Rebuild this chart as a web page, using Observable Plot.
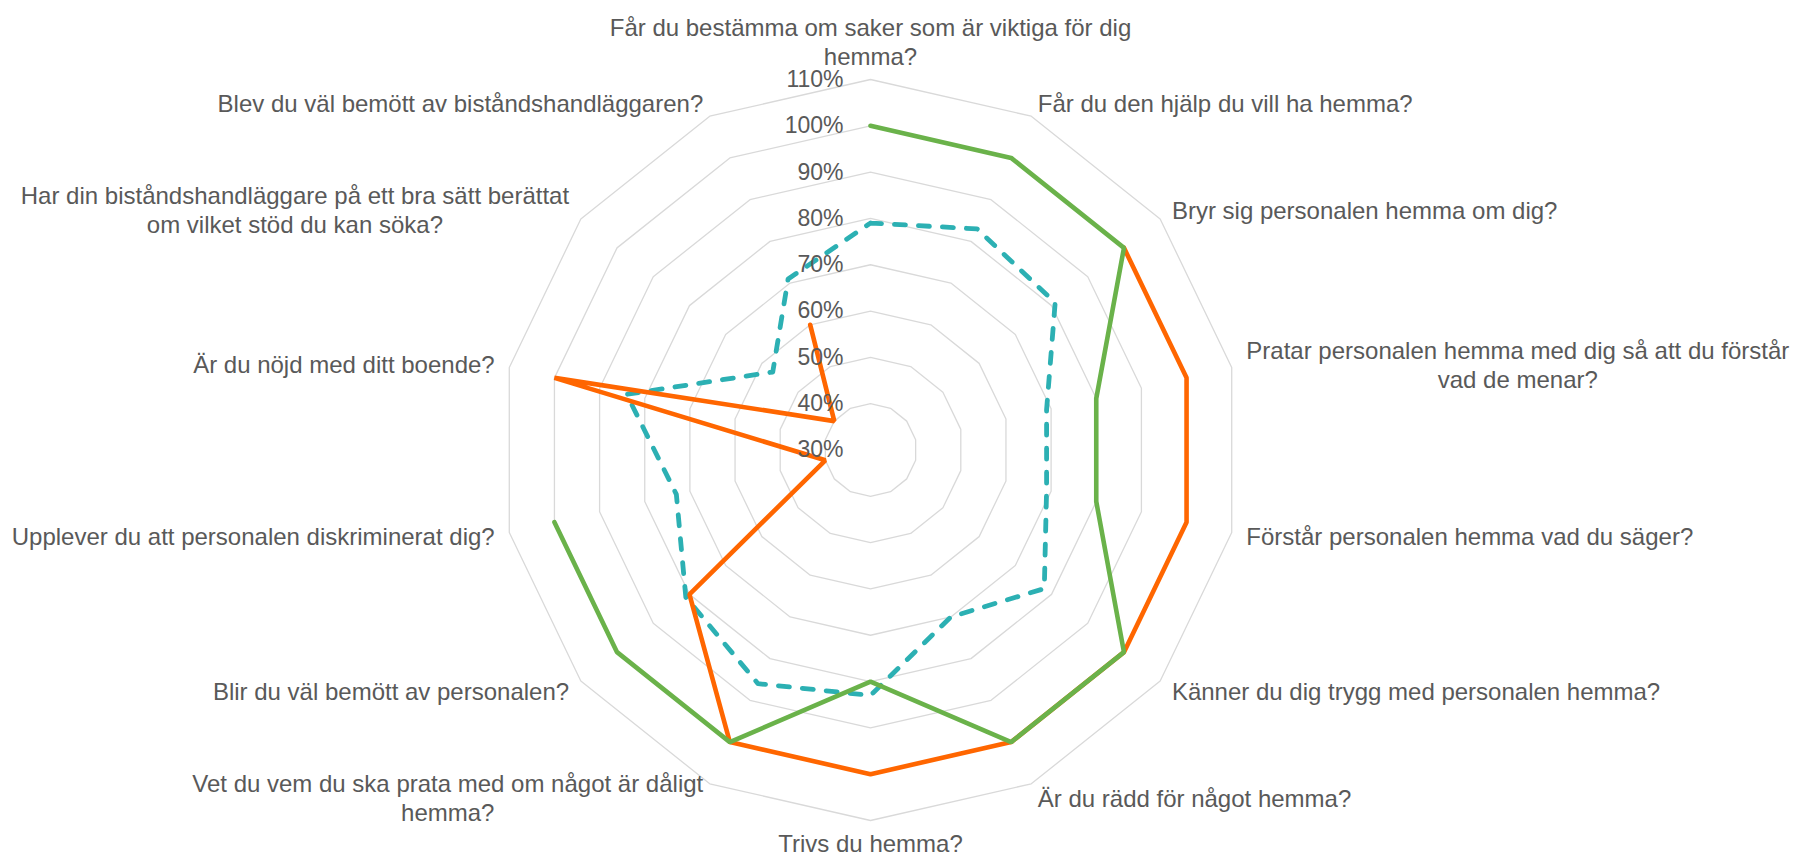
<!DOCTYPE html>
<html>
<head>
<meta charset="utf-8">
<script src="https://cdn.jsdelivr.net/npm/d3@7"></script>
<script src="https://cdn.jsdelivr.net/npm/@observablehq/plot@0.6"></script>
<style>
  body { margin: 0; background: #ffffff; }
  svg { display: block; }
</style>
</head>
<body>
<div id="chart"></div>
<script>
// ---------- data ----------
const categories = [
  "Får du bestämma om saker som är viktiga för dig\nhemma?",
  "Får du den hjälp du vill ha hemma?",
  "Bryr sig personalen hemma om dig?",
  "Pratar personalen hemma med dig så att du förstår\nvad de menar?",
  "Förstår personalen hemma vad du säger?",
  "Känner du dig trygg med personalen hemma?",
  "Är du rädd för något hemma?",
  "Trivs du hemma?",
  "Vet du vem du ska prata med om något är dåligt\nhemma?",
  "Blir du väl bemött av personalen?",
  "Upplever du att personalen diskriminerat dig?",
  "Är du nöjd med ditt boende?",
  "Har din biståndshandläggare på ett bra sätt berättat\nom vilket stöd du kan söka?",
  "Blev du väl bemött av biståndshandläggaren?"
];
const seriesGreen  = [100, 100, 100, 80, 80, 100, 100, 80, 100, 100, 100, null, null, null];
const seriesOrange = [null, null, 100, 100, 100, 100, 100, 100, 100, 80, 40, 100, 40, 60];
const seriesTeal   = [79, 83, 81, 69, 69, 78, 70, 83, 86, 81, 73, 84, 57, 71];
const tickValues = [30, 40, 50, 60, 70, 80, 90, 100, 110];

// ---------- layout ----------
const W = 1794, H = 857;
const CX = 870, CY = 449.5, R = 370.5;
const MIN = 30, MAX = 110;
const k = R / (MAX - MIN);           // px per data unit
const n = categories.length;
const ang = i => 2 * Math.PI * i / n;
const FONT = '"Liberation Sans", Arial, sans-serif';
const FS = 24, TICK_FS = 23, TEXT = "#595959";

function seriesPoints(name, values) {
  const pts = [];
  for (let j = 0; j <= n; j++) {
    const i = j % n, v = values[i];
    const ok = v != null;
    pts.push({
      series: name, i, v,
      x: ok ? (v - MIN) * Math.sin(ang(i)) : NaN,
      y: ok ? (v - MIN) * Math.cos(ang(i)) : NaN
    });
  }
  return pts;
}

const gridData = tickValues.filter(v => v > MIN).flatMap(v =>
  d3.range(n + 1).map(j => ({
    ring: v,
    x: (v - MIN) * Math.sin(ang(j % n)),
    y: (v - MIN) * Math.cos(ang(j % n))
  }))
);

// label positions (computed from angle + measured text width)
const ctx = document.createElement("canvas").getContext("2d");
ctx.font = `${FS}px ${FONT}`;
const labelData = categories.map((text, i) => {
  const s = Math.sin(ang(i)), c = Math.cos(ang(i));
  const maxW = d3.max(text.split("\n"), l => ctx.measureText(l).width);
  const sign = Math.abs(s) < 0.05 ? 0 : Math.sign(s);
  const anchor = c > 0.95 ? "bottom" : (c < -0.95 ? "top" : "middle");
  const pad = (anchor === "top" ? 11 : 15) / k;
  const r = (MAX - MIN) + pad;
  return {
    text,
    x: r * s + sign * (maxW / 2) / k,
    y: r * c,
    anchor
  };
});

const labelMark = a => Plot.text(labelData.filter(d => d.anchor === a), {
  x: "x", y: "y", text: "text",
  textAnchor: "middle", lineAnchor: a, lineHeight: 1.2,
  fontSize: FS, fill: TEXT
});

const chart = Plot.plot({
  width: W, height: H,
  marginTop: 0, marginRight: 0, marginBottom: 0, marginLeft: 0,
  x: { domain: [-CX / k, (W - CX) / k], axis: null },
  y: { domain: [-(H - CY) / k, CY / k], axis: null },
  style: { fontFamily: FONT, background: "#ffffff", overflow: "visible" },
  marks: [
    Plot.line(gridData, { x: "x", y: "y", z: "ring", stroke: "#d9d9d9", strokeWidth: 1.3, curve: "linear" }),
    Plot.line(seriesPoints("Serie 3", seriesTeal), {
      x: "x", y: "y", stroke: "#2cb0b3", strokeWidth: 4.8,
      strokeDasharray: "11,13", strokeLinecap: "round", strokeLinejoin: "round"
    }),
    Plot.line(seriesPoints("Serie 2", seriesOrange), {
      x: "x", y: "y", stroke: "#ff6600", strokeWidth: 4.6, strokeLinejoin: "miter", strokeLinecap: "round"
    }),
    Plot.line(seriesPoints("Serie 1", seriesGreen), {
      x: "x", y: "y", stroke: "#6ab24a", strokeWidth: 4.6, strokeLinejoin: "miter", strokeLinecap: "round"
    }),
    Plot.text(tickValues, {
      x: () => 0, y: d => d - MIN, text: d => d + "%",
      textAnchor: "end", lineAnchor: "middle", dx: -27,
      fontSize: TICK_FS, fill: TEXT
    }),
    labelMark("top"),
    labelMark("middle"),
    labelMark("bottom")
  ]
});
document.getElementById("chart").appendChild(chart);
</script>
</body>
</html>
